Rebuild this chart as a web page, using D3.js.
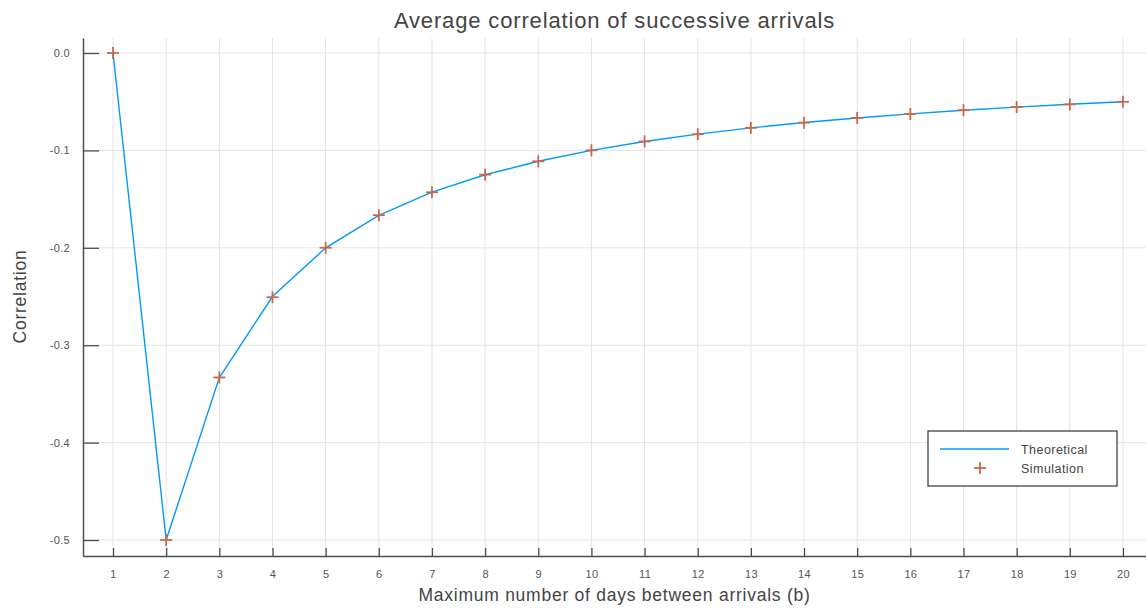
<!DOCTYPE html>
<html>
<head>
<meta charset="utf-8">
<script src="https://cdn.jsdelivr.net/npm/d3@7"></script>
<style>
  body { margin: 0; background: #fff; }
  svg { font-family: "Liberation Sans", Arial, sans-serif; }
  .grid line { stroke: #e4e4e4; stroke-width: 1; }
  .axis path, .axis line { stroke: #4d4d4d; }
  .axis text { fill: #555; font-size: 11px; letter-spacing: 0.3px; }
</style>
</head>
<body>
<script>
// max number of days between arrivals
const days = [1, 2, 3, 4, 5, 6, 7, 8, 9, 10, 11, 12, 13, 14, 15, 16, 17, 18, 19, 20];
const theoretical = [0, -0.5, -0.3333, -0.25, -0.2, -0.1667, -0.1429, -0.125, -0.1111, -0.1,
  -0.0909, -0.0833, -0.0769, -0.0714, -0.0667, -0.0625, -0.0588, -0.0556, -0.0526, -0.05];
const simulation = [0, -0.5, -0.3331, -0.2507, -0.1999, -0.1665, -0.1430, -0.1249, -0.1112, -0.0999,
  -0.0908, -0.0834, -0.0768, -0.0715, -0.0666, -0.0626, -0.0587, -0.0555, -0.0527, -0.0501];
const yTicks = [0, -0.1, -0.2, -0.3, -0.4, -0.5];
const yTickLabels = ['0.0', '-0.1', '-0.2', '-0.3', '-0.4', '-0.5'];

const svgWidth = 1146;
const svgHeight = 608;
const margin = { top: 38, right: 0, bottom: 52, left: 83 };
const width = svgWidth - margin.left - margin.right;
const height = svgHeight - margin.top - margin.bottom;

const svg = d3.select(document.body)
  .append('svg')
  .attr('width', svgWidth)
  .attr('height', svgHeight);

const x = d3.scaleLinear().domain([0.435, 20.565]).range([0, width + 7]);
const y = d3.scaleLinear().domain([-0.5164, 0.0154]).range([height, 0]);

const g = svg.append('g')
  .attr('transform', `translate(${margin.left},${margin.top})`);

// grid
const grid = g.append('g').attr('class', 'grid');
grid.selectAll('.gx').data(days).enter().append('line')
  .attr('x1', d => x(d)).attr('x2', d => x(d))
  .attr('y1', 0).attr('y2', height);
grid.selectAll('.gy').data(yTicks).enter().append('line')
  .attr('x1', 0).attr('x2', width)
  .attr('y1', d => y(d)).attr('y2', d => y(d));

// axes
const xAxis = d3.axisBottom(x).tickValues(days).tickSizeInner(-8).tickSizeOuter(0).tickPadding(14);
const yAxis = d3.axisLeft(y).tickValues(yTicks).tickFormat((d, i) => yTickLabels[i])
  .tickSizeInner(-16).tickSizeOuter(0).tickPadding(13);

const gx = g.append('g')
  .attr('class', 'axis axis--x')
  .attr('transform', `translate(0,${height})`)
  .call(xAxis);
gx.select('.domain').attr('stroke-width', 1.5);
gx.selectAll('.tick line').attr('stroke-width', 1.3);

const gy = g.append('g')
  .attr('class', 'axis axis--y')
  .call(yAxis);
gy.select('.domain').attr('stroke-width', 1.5);
gy.selectAll('.tick line').attr('stroke-width', 1.3);

// theoretical line
const line = d3.line()
  .x((d, i) => x(days[i]))
  .y(d => y(d));

g.append('path')
  .datum(theoretical)
  .attr('fill', 'none')
  .attr('stroke', '#009af9')
  .attr('stroke-width', 1.4)
  .attr('d', line);

// simulation markers (+)
const drawPlus = (sel, r) => {
  sel.append('line').attr('x1', -r).attr('x2', r).attr('y1', 0).attr('y2', 0);
  sel.append('line').attr('x1', 0).attr('x2', 0).attr('y1', -r).attr('y2', r);
};
g.selectAll('.sim')
  .data(simulation)
  .enter().append('g')
  .attr('class', 'sim')
  .attr('transform', (d, i) => `translate(${x(days[i])},${y(d)})`)
  .attr('stroke', '#c8684a')
  .attr('stroke-width', 1.8)
  .each(function() { drawPlus(d3.select(this), 6); });

// legend
const legend = svg.append('g').attr('transform', 'translate(928,431)');
legend.append('rect')
  .attr('width', 189).attr('height', 55)
  .attr('fill', '#fff').attr('stroke', '#333').attr('stroke-width', 1.2);
legend.append('line')
  .attr('x1', 12).attr('x2', 81).attr('y1', 18).attr('y2', 18)
  .attr('stroke', '#009af9').attr('stroke-width', 1.4);
legend.append('text')
  .attr('x', 93).attr('y', 22.5)
  .attr('font-size', 12.5).attr('fill', '#444')
  .attr('letter-spacing', 0.45)
  .text('Theoretical');
legend.append('g')
  .attr('transform', 'translate(52,37)')
  .attr('stroke', '#c8684a').attr('stroke-width', 1.8)
  .call(s => drawPlus(s, 6));
legend.append('text')
  .attr('x', 93).attr('y', 41.5)
  .attr('font-size', 12.5).attr('fill', '#444')
  .attr('letter-spacing', 0.45)
  .text('Simulation');

// title and labels
svg.append('text')
  .attr('x', margin.left + width / 2).attr('y', 28)
  .attr('text-anchor', 'middle')
  .attr('font-size', 22).attr('fill', '#444')
  .attr('letter-spacing', 0.85)
  .text('Average correlation of successive arrivals');

svg.append('text')
  .attr('x', margin.left + width / 2).attr('y', 601)
  .attr('text-anchor', 'middle')
  .attr('font-size', 17.5).attr('fill', '#444')
  .attr('letter-spacing', 0.75)
  .text('Maximum number of days between arrivals (b)');

svg.append('text')
  .attr('transform', `translate(26,${margin.top + y(-0.25)}) rotate(-90)`)
  .attr('text-anchor', 'middle')
  .attr('font-size', 17.5).attr('fill', '#444')
  .attr('letter-spacing', 0.75)
  .text('Correlation');
</script>
</body>
</html>
